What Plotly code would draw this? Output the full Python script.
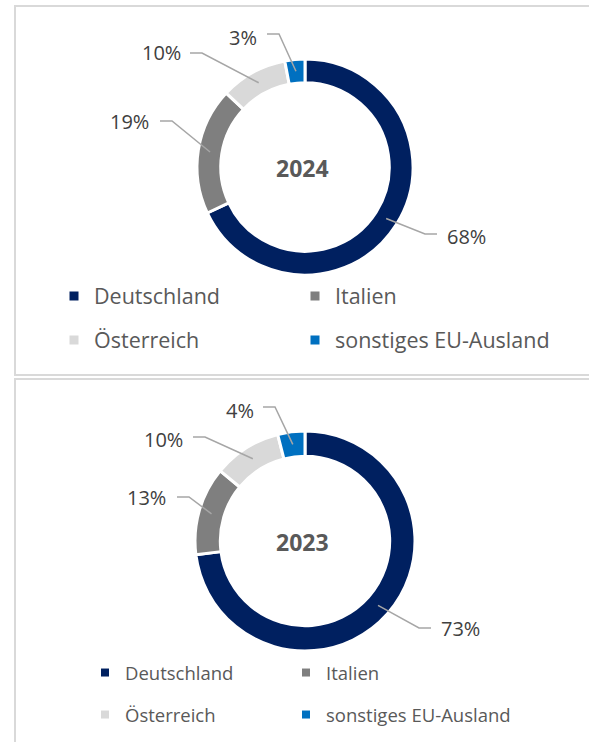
import math
import plotly.graph_objects as go

# ---------------- data ----------------
CATEGORIES = ["Deutschland", "Italien", "Österreich", "sonstiges EU-Ausland"]
YEARS = ["2024", "2023"]
VALUES_2024 = [68, 19, 10, 3]
VALUES_2023 = [73, 13, 10, 4]

# ---------------- styles / layout ----------------
W, H = 589, 742
COLORS = ["#002060", "#7f7f7f", "#d9d9d9", "#0070c0"]
FONT = "Open Sans"
LABEL_COLOR = "#404040"
LEGEND_COLOR = "#595959"
LINE_COLOR = "#a6a6a6"
BORDER_COLOR = "#d9d9d9"

# per chart: centre, outer radius (px), hole, label text centres, leader-line end near the text
CHARTS = [
    dict(year=YEARS[0], values=VALUES_2024, cx=305, cy=167, r=108, hole=0.78,
         text_pos=[(466, 236), (129, 121), (161, 53), (243, 37)],
         near=[(437, 234), (160, 121), (190, 53), (267, 34)],
         legend_rows=(296, 340), legend_x=54, col_width=196, legend_font=21.5,
         marker=9, center_font=23),
    dict(year=YEARS[1], values=VALUES_2023, cx=305, cy=541, r=110, hole=0.77,
         text_pos=[(460, 628), (146, 497), (163, 439), (240, 410)],
         near=[(431, 628), (177, 497), (193, 437), (263, 407)],
         legend_rows=(673, 715), legend_x=85, col_width=156, legend_font=18.5,
         marker=8, center_font=23),
]


def px(x):
    return x / W


def py(y):
    return 1 - y / H


fig = go.Figure()
shapes = []
annotations = []
legend_layouts = {}
legend_idx = 0

for ch in CHARTS:
    cx, cy, r = ch["cx"], ch["cy"], ch["r"]
    vals = ch["values"]
    fig.add_trace(go.Pie(
        labels=CATEGORIES, values=vals, hole=ch["hole"], sort=False,
        direction="clockwise", rotation=0,
        marker=dict(colors=COLORS, line=dict(color="white", width=3)),
        textinfo="none", hoverinfo="label+percent", showlegend=False,
        domain=dict(x=[px(cx - r), px(cx + r)], y=[py(cy + r), py(cy - r)]),
    ))
    # centre label
    annotations.append(dict(x=px(cx - 3), y=py(cy + 1), xref="paper", yref="paper",
                            text="<b>%s</b>" % ch["year"], showarrow=False,
                            font=dict(family=FONT, size=ch["center_font"], color="#595959"),
                            xanchor="center", yanchor="middle"))
    # percentage labels + leader lines
    total = sum(vals)
    cum = 0
    rm = r * (1 + ch["hole"]) / 2
    for i, v in enumerate(vals):
        frac = (cum + v / 2) / total
        cum += v
        a = 2 * math.pi * frac
        sx, sy = cx + rm * math.sin(a), cy - rm * math.cos(a)
        tx, ty = ch["text_pos"][i]
        nx, ny = ch["near"][i]
        ex = nx + 12 if nx > tx else nx - 12
        path = "M %f,%f L %f,%f L %f,%f" % (px(sx), py(sy), px(ex), py(ny), px(nx), py(ny))
        shapes.append(dict(type="path", path=path, xref="paper", yref="paper",
                           line=dict(color=LINE_COLOR, width=1.5), layer="above"))
        pct = round(100 * v / total)
        annotations.append(dict(x=px(tx), y=py(ty), xref="paper", yref="paper",
                                text="%d%%" % pct, showarrow=False,
                                font=dict(family=FONT, size=20, color=LABEL_COLOR),
                                xanchor="center", yanchor="middle"))
    # legends: two rows of two entries
    for row in range(2):
        legend_idx += 1
        lname = "legend" if legend_idx == 1 else "legend%d" % legend_idx
        for k in range(2):
            ci = row * 2 + k
            kw = dict(legendwidth=ch["col_width"]) if k == 0 else {}
            fig.add_trace(go.Scatter(
                x=[None], y=[None], mode="markers", name=CATEGORIES[ci],
                marker=dict(symbol="square", size=ch["marker"], color=COLORS[ci]),
                legend=lname, showlegend=True, hoverinfo="skip", **kw,
            ))
        legend_layouts[lname] = dict(
            orientation="h", x=px(ch["legend_x"]), xanchor="left",
            y=py(ch["legend_rows"][row]), yanchor="middle",
            font=dict(family=FONT, size=ch["legend_font"], color=LEGEND_COLOR),
            bgcolor="rgba(0,0,0,0)", borderwidth=0, itemclick=False, itemdoubleclick=False,
        )

# panel borders
shapes.append(dict(type="rect", xref="paper", yref="paper",
                   x0=px(15), x1=px(W + 10), y0=py(375), y1=py(6),
                   line=dict(color=BORDER_COLOR, width=2), layer="below"))
shapes.append(dict(type="rect", xref="paper", yref="paper",
                   x0=px(15), x1=px(W + 10), y0=py(H + 20), y1=py(379),
                   line=dict(color=BORDER_COLOR, width=2), layer="below"))

fig.update_layout(
    width=W, height=H, margin=dict(l=0, r=0, t=0, b=0),
    paper_bgcolor="white", plot_bgcolor="white",
    font=dict(family=FONT, color=LEGEND_COLOR),
    xaxis=dict(visible=False), yaxis=dict(visible=False),
    shapes=shapes, annotations=annotations,
    **legend_layouts,
)

fig.write_html("out.html", config={"displayModeBar": False},
               post_script="document.body.style.margin='0';document.body.style.overflow='hidden';")
